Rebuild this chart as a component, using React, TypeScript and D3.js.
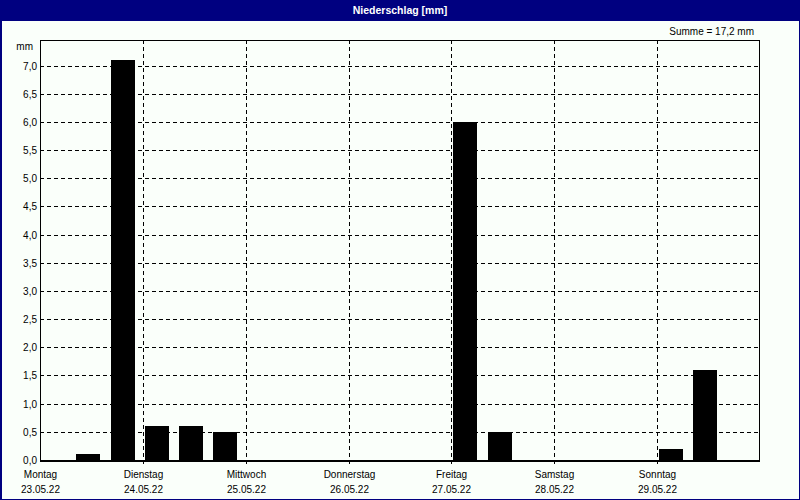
import React from "react";
import * as d3 from "d3";

const title = "Niederschlag [mm]";
const sumLabel = "Summe = 17,2 mm";
const unitLabel = "mm";
const dayNames = ["Montag", "Dienstag", "Mittwoch", "Donnerstag", "Freitag", "Samstag", "Sonntag"];
const dayDates = ["23.05.22", "24.05.22", "25.05.22", "26.05.22", "27.05.22", "28.05.22", "29.05.22"];
// 8-hour precipitation sums, 3 per day
const precip = [
  0, 0.1, 7.1,
  0.6, 0.6, 0.5,
  0, 0, 0,
  0, 0, 0,
  6.0, 0.5, 0,
  0, 0, 0,
  0.2, 1.6, 0,
];
const yTicks = [0, 0.5, 1, 1.5, 2, 2.5, 3, 3.5, 4, 4.5, 5, 5.5, 6, 6.5, 7];
const intervalsPerDay = 3;

const W = 800;
const H = 500;
const left = 40;
const right = 760;
const top = 40;
const bottom = 460;
const navy = "#000080";
const bg = "#FAFFFA";
const font = "'Liberation Sans', Arial, sans-serif";
const fs = 10;

export default function App() {
  const n = precip.length;
  const x = d3.scaleLinear().domain([0, n]).range([left, right]);
  const yMax = (d3.max(precip) as number) * 1.05;
  const y = d3.scaleLinear().domain([0, yMax]).range([bottom, top]);
  const fmt = (v: number) => v.toFixed(1).replace(".", ",");
  const barW = 24;
  const barOff = 2;

  return (
    <svg width={W} height={H} style={{ position: "absolute", left: 0, top: 0 }} shapeRendering="crispEdges">
      <rect x={0} y={0} width={W} height={H} fill={bg} />
      <rect x={0.5} y={0.5} width={W - 1} height={H - 1} fill="none" stroke={navy} strokeWidth={1} />
      <rect x={0} y={0} width={W} height={21} fill={navy} />
      <rect x={1} y={1} width={W - 2} height={H - 2} fill="none" stroke={navy} strokeWidth={1} />
      <text x={W / 2} y={14} textAnchor="middle" fill="#fff" fontFamily={font} fontSize={10.5} fontWeight="bold">
        {title}
      </text>
      <text x={754} y={35} textAnchor="end" fill="#000" fontFamily={font} fontSize={fs}>
        {sumLabel}
      </text>
      <text x={33} y={50} textAnchor="end" fill="#000" fontFamily={font} fontSize={fs}>
        {unitLabel}
      </text>
      {/* horizontal grid */}
      {yTicks.map((t) => (
        <g key={"y" + t}>
          {t > 0 && (
            <line x1={left} x2={right} y1={Math.round(y(t)) + 0.5} y2={Math.round(y(t)) + 0.5} stroke="#000" strokeDasharray="4,3" />
          )}
          <text x={37} y={Math.round(y(t)) + 4} textAnchor="end" fill="#000" fontFamily={font} fontSize={fs}>
            {fmt(t)}
          </text>
        </g>
      ))}
      {/* vertical grid at day boundaries */}
      {dayNames.map((d, i) => {
        const xx = Math.round(x(i * intervalsPerDay)) + 0.5;
        return (
          <g key={d}>
            {i > 0 && <line x1={xx} x2={xx} y1={top} y2={bottom + 5} stroke="#000" strokeDasharray="4,3" />}
            <text x={xx} y={478} textAnchor="middle" fill="#000" fontFamily={font} fontSize={fs}>
              {d}
            </text>
            <text x={xx} y={493} textAnchor="middle" fill="#000" fontFamily={font} fontSize={fs}>
              {dayDates[i]}
            </text>
          </g>
        );
      })}
      {/* bars */}
      {precip.map((v, i) =>
        v > 0 ? (
          <rect
            key={"b" + i}
            x={Math.round(x(i) + barOff)}
            y={Math.round(y(v))}
            width={barW}
            height={bottom - Math.round(y(v))}
            fill="#000"
          />
        ) : null
      )}
      {/* plot frame */}
      <rect x={left + 0.5} y={top + 0.5} width={right - left - 1} height={bottom - top} fill="none" stroke="#000" strokeWidth={1} />
      <line x1={left} x2={right} y1={bottom + 0.5} y2={bottom + 0.5} stroke="#000" strokeWidth={2} />
    </svg>
  );
}
